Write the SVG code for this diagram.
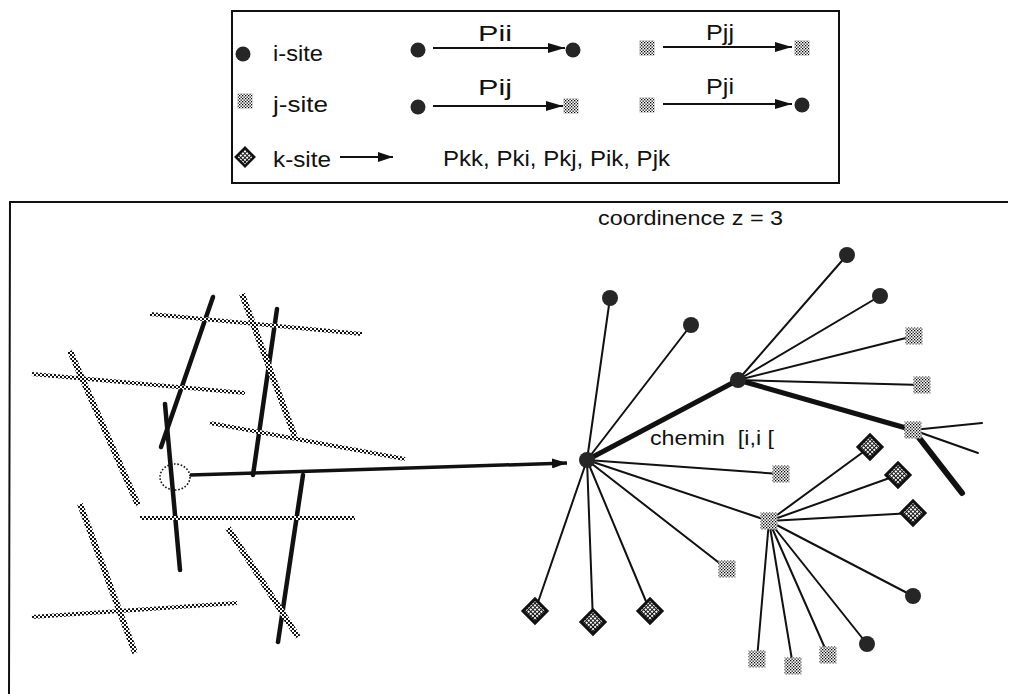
<svg xmlns="http://www.w3.org/2000/svg" width="1011" height="694" viewBox="0 0 1011 694">
<style>
text{font-family:"Liberation Sans",Arial,sans-serif;fill:#111}
.lg{font-size:22px}
.mt{font-size:20px}
.frame{fill:none;stroke:#111;stroke-width:2}
.thin{stroke:#111;stroke-width:2;fill:none;stroke-linecap:round}
.thick{stroke:#111;stroke-width:5;fill:none;stroke-linecap:round}
.blk{stroke:#111;stroke-width:4.5;fill:none;stroke-linecap:round}
.chH{stroke:url(#chain);stroke-width:4;fill:none}
.chD{stroke:url(#chain);stroke-width:6;fill:none}
.isite{fill:#262626}
.jsite{fill:url(#chk)}
.ksite{fill:url(#grid);stroke:#111;stroke-width:3}
.arr{stroke:#111;stroke-width:2;fill:none;marker-end:url(#ah)}
</style>
<defs>
<pattern id="chk" width="3" height="3" patternUnits="userSpaceOnUse"><rect width="3" height="3" fill="#fff"/><rect width="1.3" height="1.3" fill="#000"/><rect x="1.5" y="1.5" width="1.3" height="1.3" fill="#000"/></pattern>
<pattern id="chain" width="4" height="4" patternUnits="userSpaceOnUse"><rect width="4" height="4" fill="#fff"/><rect width="2" height="2" fill="#111"/><rect x="2" y="2" width="2" height="2" fill="#111"/></pattern>
<pattern id="grid" width="3" height="3" patternUnits="userSpaceOnUse"><rect width="3" height="3" fill="#111"/><rect x="1" y="1" width="2" height="2" fill="#fff"/></pattern>
<marker id="ah" markerUnits="userSpaceOnUse" markerWidth="17" markerHeight="10" refX="17" refY="5" orient="auto"><path d="M0,0 L17,5 L0,10 z" fill="#111"/></marker>
<marker id="ah2" markerUnits="userSpaceOnUse" markerWidth="15" markerHeight="10" refX="15" refY="5" orient="auto"><path d="M0,0 L15,5 L0,10 z" fill="#111"/></marker>
<circle id="iS" r="8" class="isite"/>
<rect id="jS" x="-8.5" y="-8.5" width="17" height="17" class="jsite"/>
<rect id="kS" x="-8.5" y="-8.5" width="17" height="17" transform="rotate(45)" class="ksite"/>
<circle id="iL" r="7.5" class="isite"/>
<rect id="jL" x="-7.5" y="-7.5" width="15" height="15" class="jsite"/>
<rect id="kL" x="-6.5" y="-6.5" width="13" height="13" transform="rotate(45)" class="ksite" style="stroke-width:2.5"/>
</defs>
<rect width="1011" height="694" fill="#fff"/>

<!-- Legend -->
<g id="legend">
<rect x="232" y="11" width="607" height="172" class="frame"/>
<g id="leg-i"><use href="#iL" x="243" y="54"/><text class="lg" x="273" y="61" textLength="50" lengthAdjust="spacingAndGlyphs">i-site</text></g>
<g id="leg-j"><use href="#jL" x="245" y="101"/><text class="lg" x="273" y="112" textLength="55" lengthAdjust="spacingAndGlyphs">j-site</text></g>
<g id="leg-k"><use href="#kL" x="245" y="157"/><text class="lg" x="273" y="167" textLength="58" lengthAdjust="spacingAndGlyphs">k-site</text>
<line x1="340" y1="157" x2="393" y2="157" class="arr" style="marker-end:url(#ah2)"/>
<text class="lg" x="443" y="166" textLength="227" lengthAdjust="spacingAndGlyphs">Pkk, Pki, Pkj, Pik, Pjk</text></g>
<g id="leg-pii"><use href="#iL" x="418" y="50"/><line x1="433" y1="48" x2="565" y2="48" class="arr"/><use href="#iL" x="573" y="50"/><text class="lg" x="478" y="41" textLength="34" lengthAdjust="spacingAndGlyphs">Pii</text></g>
<g id="leg-pij"><use href="#iL" x="418" y="107"/><line x1="433" y1="106" x2="563" y2="106" class="arr"/><use href="#jL" x="571" y="106"/><text class="lg" x="478" y="95" textLength="34" lengthAdjust="spacingAndGlyphs">Pij</text></g>
<g id="leg-pjj"><use href="#jL" x="647" y="48"/><line x1="663" y1="47" x2="792" y2="47" class="arr"/><use href="#jL" x="802" y="48"/><text class="lg" x="706" y="40" textLength="28" lengthAdjust="spacingAndGlyphs">Pjj</text></g>
<g id="leg-pji"><use href="#jL" x="647" y="105"/><line x1="663" y1="104" x2="792" y2="104" class="arr"/><use href="#iL" x="802" y="105"/><text class="lg" x="706" y="94" textLength="28" lengthAdjust="spacingAndGlyphs">Pji</text></g>
</g>

<!-- Main frame -->
<path d="M9,694 L10,202 L1008,202" class="frame"/>
<text class="mt" x="598" y="225" textLength="185" lengthAdjust="spacingAndGlyphs">coordinence z = 3</text>

<!-- Left network -->
<g id="network">
<g id="black-chains">
<line x1="213" y1="297" x2="161" y2="447" class="blk"/>
<line x1="165" y1="404" x2="180" y2="570" class="blk"/>
<line x1="277" y1="309" x2="253" y2="475" class="blk"/>
<line x1="303" y1="475" x2="278" y2="642" class="blk"/>
</g>
<g id="hatched-chains">
<line x1="150" y1="314" x2="362" y2="334" class="chH"/>
<line x1="32" y1="374" x2="245" y2="393" class="chH"/>
<line x1="210" y1="423" x2="405" y2="459" class="chH"/>
<line x1="140" y1="518" x2="355" y2="518" class="chH"/>
<line x1="32" y1="617" x2="237" y2="603" class="chH"/>
<line x1="70" y1="351" x2="138" y2="505" class="chD"/>
<line x1="242" y1="294" x2="295" y2="437" class="chD"/>
<line x1="80" y1="504" x2="135" y2="653" class="chD"/>
<line x1="228" y1="528" x2="298" y2="637" class="chD"/>
</g>
<ellipse id="origin" cx="175" cy="477" rx="15" ry="13" fill="none" stroke="#111" stroke-width="1.6" stroke-dasharray="1.6 1.8"/>
</g>

<!-- Connectors of the tree -->
<g id="connectors">
<line x1="190" y1="475" x2="567" y2="463" class="arr" style="stroke-width:3.5;marker-end:url(#ah2)"/>
<line x1="587" y1="460" x2="610" y2="298" class="thin"/>
<line x1="587" y1="460" x2="691" y2="325" class="thin"/>
<line x1="587" y1="460" x2="738" y2="380" class="thick"/>
<line x1="587" y1="460" x2="781" y2="474" class="thin"/>
<line x1="587" y1="460" x2="769" y2="521" class="thin"/>
<line x1="587" y1="460" x2="727" y2="569" class="thin"/>
<line x1="587" y1="460" x2="650" y2="611" class="thin"/>
<line x1="587" y1="460" x2="593" y2="622" class="thin"/>
<line x1="587" y1="460" x2="535" y2="611" class="thin"/>
<line x1="738" y1="380" x2="847" y2="255" class="thin"/>
<line x1="738" y1="380" x2="880" y2="296" class="thin"/>
<line x1="738" y1="380" x2="914" y2="336" class="thin"/>
<line x1="738" y1="380" x2="922" y2="385" class="thin"/>
<line x1="738" y1="380" x2="913" y2="430" class="thick"/>
<line x1="913" y1="430" x2="982" y2="423" class="thin"/>
<line x1="913" y1="430" x2="978" y2="453" class="thin"/>
<line x1="913" y1="430" x2="962" y2="493" class="thick" style="stroke-width:6"/>
<line x1="769" y1="521" x2="870" y2="447" class="thin"/>
<line x1="769" y1="521" x2="898" y2="475" class="thin"/>
<line x1="769" y1="521" x2="913" y2="513" class="thin"/>
<line x1="769" y1="521" x2="913" y2="596" class="thin"/>
<line x1="769" y1="521" x2="867" y2="644" class="thin"/>
<line x1="769" y1="521" x2="828" y2="655" class="thin"/>
<line x1="769" y1="521" x2="793" y2="666" class="thin"/>
<line x1="769" y1="521" x2="757" y2="659" class="thin"/>
</g>

<!-- Tree nodes -->
<g id="n-root"><use href="#iS" x="587" y="460"/></g>
<g id="n1"><use href="#iS" x="610" y="298"/></g>
<g id="n2"><use href="#iS" x="691" y="325"/></g>
<g id="nA"><use href="#iS" x="738" y="380"/></g>
<g id="n3"><use href="#jS" x="781" y="474"/></g>
<g id="nB"><use href="#jS" x="769" y="521"/></g>
<g id="n4"><use href="#jS" x="727" y="569"/></g>
<g id="n5"><use href="#kS" x="650" y="611"/></g>
<g id="n6"><use href="#kS" x="593" y="622"/></g>
<g id="n7"><use href="#kS" x="535" y="611"/></g>
<g id="a1"><use href="#iS" x="847" y="255"/></g>
<g id="a2"><use href="#iS" x="880" y="296"/></g>
<g id="a3"><use href="#jS" x="914" y="336"/></g>
<g id="a4"><use href="#jS" x="922" y="385"/></g>
<g id="nC"><use href="#jS" x="913" y="430"/></g>
<g id="b1"><use href="#kS" x="870" y="447"/></g>
<g id="b2"><use href="#kS" x="898" y="475"/></g>
<g id="b3"><use href="#kS" x="913" y="513"/></g>
<g id="b4"><use href="#iS" x="913" y="596"/></g>
<g id="b5"><use href="#iS" x="867" y="644"/></g>
<g id="b6"><use href="#jS" x="828" y="655"/></g>
<g id="b7"><use href="#jS" x="793" y="666"/></g>
<g id="b8"><use href="#jS" x="757" y="659"/></g>
<text class="mt" x="650" y="445" textLength="124" lengthAdjust="spacingAndGlyphs" style="white-space:pre">chemin  [i,i [</text>
</svg>
